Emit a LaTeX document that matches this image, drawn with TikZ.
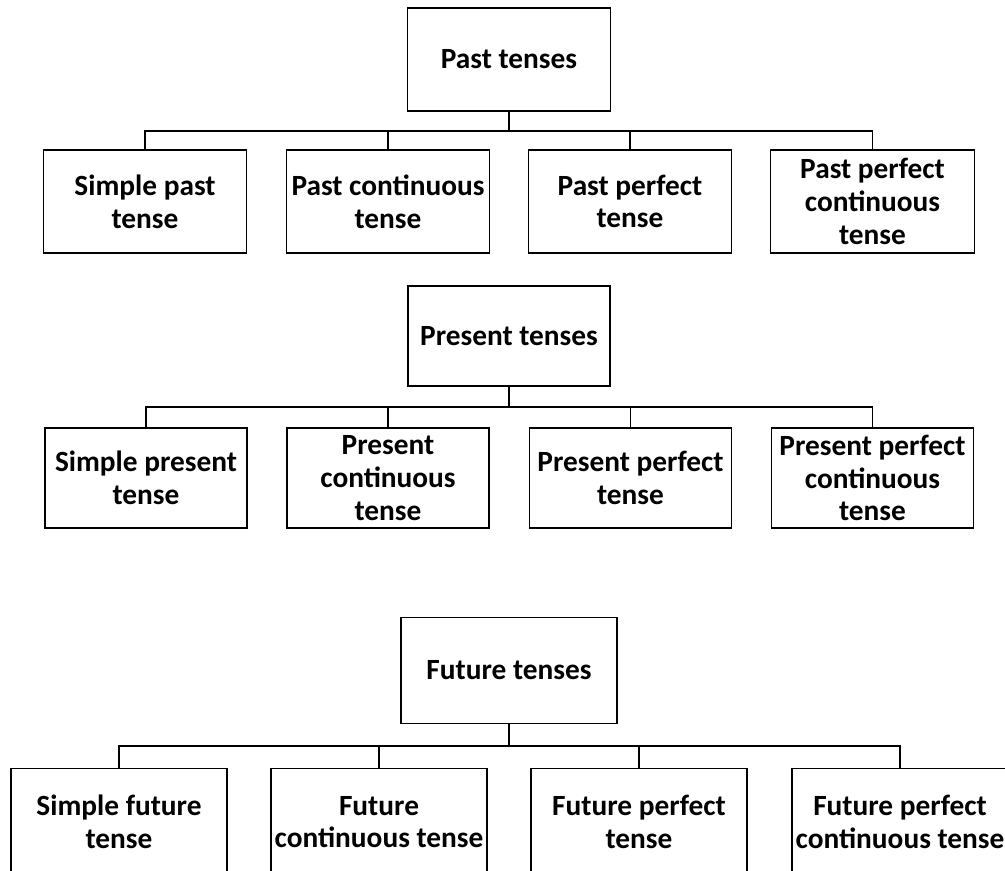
\documentclass[tikz,border=0pt]{standalone}
\usepackage{fontspec}
\setmainfont{Carlito}
\usepackage{tikz}
\tikzset{
    tense-box/.style = {draw, line width=0.9pt, rectangle, inner sep=0pt, align=center,
        font=\bfseries\fontsize{22}{24.5}\selectfont},
    past-size/.style = {minimum width=152.5pt, minimum height=77.25pt},
    present-size/.style = {minimum width=151.5pt, minimum height=75pt},
    future-size/.style = {minimum width=162pt, minimum height=80pt},
    stem/.style = {line width=2pt},
    branch/.style = {line width=1.1pt},
}

\begin{document}
\begin{tikzpicture}[x=0.75pt, y=-0.75pt]
\useasboundingbox (0,0) rectangle (1005,870);
\clip (0,0) rectangle (1005,870);

% past
\node[tense-box, past-size] (past) at (509,59.5) {Past tenses};
\node[tense-box, past-size] (past-a) at (145,201.5) {Simple past\\tense};
\node[tense-box, past-size] (past-b) at (388,201.5) {Past continuous\\tense};
\node[tense-box, past-size] (past-c) at (630,201.5) {Past perfect\\tense};
\node[tense-box, past-size] (past-d) at (872.5,201.5) {Past perfect\\continuous\\tense};
\coordinate (past-bus) at (509,131);
\draw[stem] (past) -- (past-bus);
\draw[branch] (past-a) |- (past-bus) -| (past-d);
\foreach \k in {b,c} \draw[branch] (past-\k) -- (past-\k |- past-bus);

% present
\node[tense-box, present-size] (present) at (509,336) {Present tenses};
\node[tense-box, present-size] (present-a) at (146,478) {Simple present\\tense};
\node[tense-box, present-size] (present-b) at (388,478) {Present\\continuous\\tense};
\node[tense-box, present-size] (present-c) at (630.5,478) {Present perfect\\tense};
\node[tense-box, present-size] (present-d) at (872.5,478) {Present perfect\\continuous\\tense};
\coordinate (present-bus) at (509,407);
\draw[stem] (present) -- (present-bus);
\draw[branch] (present-a) |- (present-bus) -| (present-d);
\foreach \k in {b,c} \draw[branch] (present-\k) -- (present-\k |- present-bus);

% future
\node[tense-box, future-size] (future) at (509,670.5) {Future tenses};
\node[tense-box, future-size] (future-a) at (119,822) {Simple future\\tense};
\node[tense-box, future-size] (future-b) at (379,822) {Future\\continuous tense};
\node[tense-box, future-size] (future-c) at (639,822) {Future perfect\\tense};
\node[tense-box, future-size] (future-d) at (900,822) {Future perfect\\continuous tense};
\coordinate (future-bus) at (509,746);
\draw[stem] (future) -- (future-bus);
\draw[branch] (future-a) |- (future-bus) -| (future-d);
\foreach \k in {b,c} \draw[branch] (future-\k) -- (future-\k |- future-bus);
\end{tikzpicture}
\end{document}
